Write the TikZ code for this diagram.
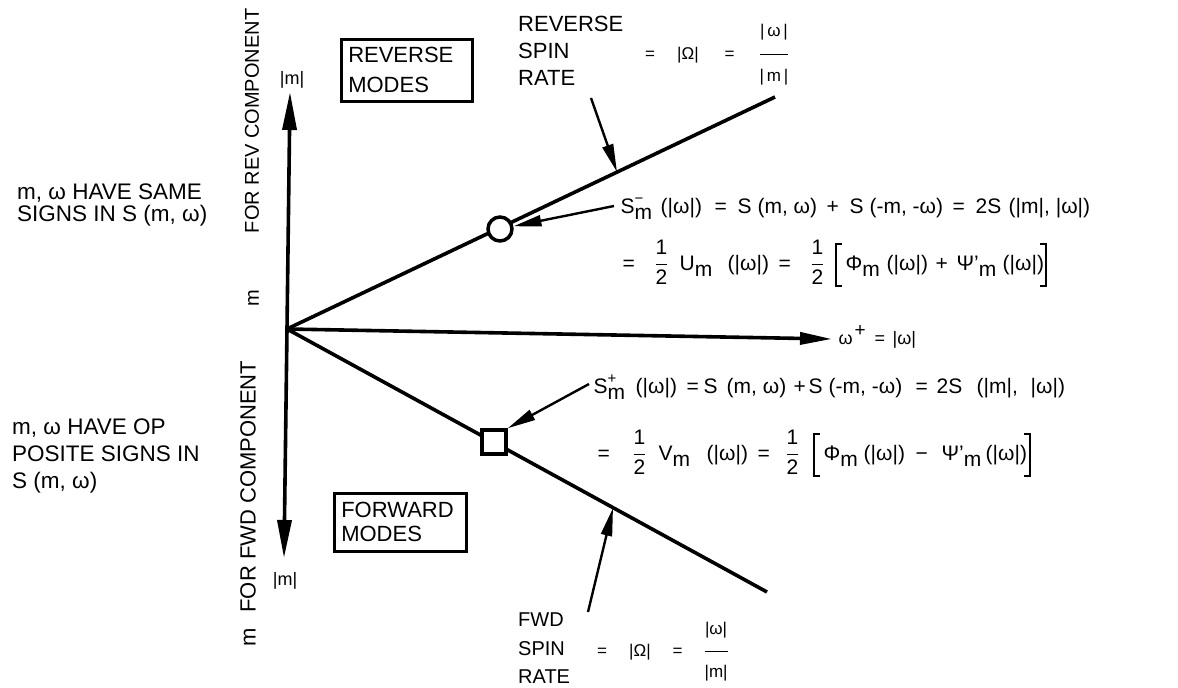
\documentclass[tikz,border=0pt]{standalone}
\usepackage{fontspec}
\setmainfont{Liberation Sans}
\usetikzlibrary{arrows.meta}
\newcommand{\lsb}[1]{\raisebox{-6pt}{#1}}
\newcommand{\ssp}[2]{\makebox[0pt][l]{\raisebox{10pt}{\fontsize{15}{15}\selectfont #1}}\raisebox{-6pt}{#2}}
\newcommand{\frc}[3][1pt]{{\setlength{\arrayrulewidth}{1.2pt}\setlength{\tabcolsep}{0pt}$\vcenter{\hbox{\begin{tabular}{c}#2\\[#1]\hline\noalign{\vskip #1}#3\end{tabular}}}$}}
\newcommand{\bkl}{\raisebox{-17pt}{\rlap{\rule{7pt}{2pt}}\rlap{\raisebox{42pt}{\rule{7pt}{2pt}}}\rule{2.4pt}{44pt}}}
\newcommand{\bkr}{\raisebox{-17pt}{\rule{2.4pt}{44pt}\llap{\rule{7pt}{2pt}}\llap{\raisebox{42pt}{\rule{7pt}{2pt}}}}}
\newcommand{\at}[2]{\rlap{\hspace{#1pt}#2}}
\begin{document}
\begin{tikzpicture}[x=1pt,y=-1pt,
  ax/.style={line width=3.6pt,-{Triangle[length=38pt,width=14pt]}},
  axh/.style={line width=3.6pt,-{Triangle[length=32pt,width=12pt]}},
  ray/.style={line width=3.6pt},
  ptr/.style={line width=2.4pt,-{Triangle[length=28pt,width=11pt]}},
  lbl/.style={inner sep=0pt,align=left,anchor=north west},
  eq/.style={inner sep=0pt,anchor=base west,font=\fontsize{21}{25}\selectfont},
  sm/.style={inner sep=0pt,anchor=base west,font=\fontsize{17}{20}\selectfont},
  box/.style={draw,line width=2.5pt,align=left,anchor=north west,inner xsep=7pt,inner ysep=0pt},
  rot/.style={rotate=90,anchor=west,inner sep=0pt}]
\useasboundingbox (0,0) rectangle (1178,688);
% axes and rays
\coordinate (O) at (287,329);
\coordinate (ytop) at (290,92);
\coordinate (ybot) at (284,558);
\coordinate (xend) at (832,339);
\coordinate (U) at (775,97);
\coordinate (L) at (767,592);
\draw[ax] (O) -- (ytop);
\draw[ax] (O) -- (ybot);
\draw[axh] (O) -- (xend);
\draw[ray] (O) -- (U);
\draw[ray] (O) -- (L);
\node[circle,draw,fill=white,line width=3.5pt,minimum size=24pt,inner sep=0pt] (circ) at (500,229) {};
\node[draw,fill=white,line width=3.5pt,minimum size=24pt,inner sep=0pt] (sq) at (494,442) {};
% axis labels
\node[inner sep=0pt,font=\fontsize{18}{20}\selectfont] (mtop) at (292,80) {|m|};
\node[inner sep=0pt,font=\fontsize{18}{20}\selectfont] (mbot) at (285,581) {|m|};
\node[inner sep=0pt,anchor=base west,font=\fontsize{18}{20}\selectfont] (wlab) at (0,344) {\at{838}{ω}\at{854}{\raisebox{8pt}{\fontsize{19}{19}\selectfont +}}\at{874}{=}\at{892}{|ω|}};
\node[rot,font=\fontsize{20}{24}\selectfont] (revcomp) at (252,307) {m\hspace{57pt}FOR REV COMPONENT};
\node[rot,font=\fontsize{22}{24}\selectfont] (fwdcomp) at (248,647) {m\hspace{16pt}FOR FWD COMPONENT};
% left notes
\node[lbl,font=\fontsize{22.5}{22}\selectfont] (same) at (17,184) {m, ω HAVE SAME\\SIGNS IN S (m, ω)};
\node[lbl,font=\fontsize{22.5}{26.7}\selectfont] (opp) at (12,419) {m, ω HAVE OP\\POSITE SIGNS IN\\S (m, ω)};
% boxes
\node[box,font=\fontsize{22}{30}\selectfont,minimum width=131pt,minimum height=62pt,text width=117pt] (revbox) at (340,38) {REVERSE\\MODES};
\node[box,font=\fontsize{22}{24}\selectfont,minimum width=132pt,minimum height=58pt,text width=118pt] (fwdbox) at (333,492) {FORWARD\\MODES};
% spin rate labels
\node[lbl,font=\fontsize{22}{27}\selectfont] (revspin) at (518,16) {REVERSE\\SPIN\\RATE};
\node[sm] (revrate) at (645,59) {=\hspace{22pt}|Ω|\hspace{26pt}=\hspace{25pt}\frc[12pt]{|\,ω\,|}{|\,m\,|}};
\node[lbl,font=\fontsize{20}{28.5}\selectfont] (fwdspin) at (518,613) {FWD\\SPIN\\RATE};
\node[sm] (fwdrate) at (597,656) {=\hspace{22pt}|Ω|\hspace{22pt}=\hspace{22pt}\frc[11pt]{|ω|}{|m|}};
\coordinate (revtail) at (591,98);
\coordinate (revtip) at (617,172);
\draw[ptr] (revtail) -- (revtip);
\coordinate (fwdtail) at (588,612);
\coordinate (fwdtip) at (613,508);
\draw[ptr] (fwdtail) -- (fwdtip);
% equations
\node[eq] (sminus) at (0,213) {\at{620}{S\ssp{−}{m}}\at{660}{(|ω|)}\at{714}{=}\at{737}{S (m, ω)}\at{826}{+}\at{849}{S (-m, -ω)}\at{952}{=}\at{975}{2S}\at{1008}{(|m|, |ω|)}};
\node[eq] (ueq) at (0,270) {\at{622}{=}\at{655}{\frc[2pt]{1}{2}}\at{679}{U\lsb{m}}\at{727}{(|ω|)}\at{778}{=}\at{811}{\frc[2pt]{1}{2}}\at{834}{\bkl}\at{845}{Φ\lsb{m}}\at{886}{(|ω|)}\at{935}{+}\at{956}{Ψ'\lsb{m}}\at{1002}{(|ω|)}\at{1044}{\bkr}};
\node[eq] (splus) at (0,393) {\at{593}{S\ssp{+}{m}}\at{635}{(|ω|)}\at{686}{=}\at{703}{S}\at{726}{(m, ω)}\at{793}{+}\at{808}{S}\at{828}{(-m, -ω)}\at{915}{=}\at{936}{2S}\at{976}{(|m|,}\at{1030}{|ω|)}};
\node[eq] (veq) at (0,460) {\at{597}{=}\at{633}{\frc[2pt]{1}{2}}\at{658}{V\lsb{m}}\at{706}{(|ω|)}\at{757}{=}\at{786}{\frc[2pt]{1}{2}}\at{812}{\bkl}\at{823}{Φ\lsb{m}}\at{863}{(|ω|)}\at{915}{−}\at{941}{Ψ'\lsb{m}}\at{985}{(|ω|)}\at{1028}{\bkr}};
\coordinate (smtail) at (614,206);
\draw[ptr] (smtail) -- (circ);
\coordinate (sptail) at (589,384);
\draw[ptr] (sptail) -- (sq.north east);
\end{tikzpicture}
\end{document}
